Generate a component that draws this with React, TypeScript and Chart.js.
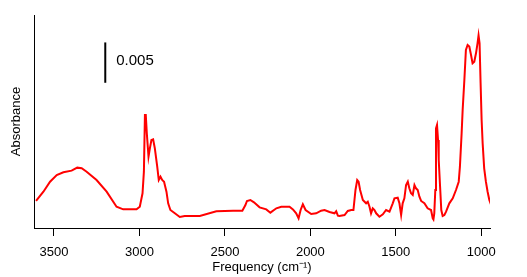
import React, { useEffect, useRef } from "react";
import { Chart, registerables } from "chart.js";

Chart.register(...registerables);

// Spectrum: frequency (cm^-1) and absorbance
const FREQ = [
  3605, 3562, 3523, 3484, 3445, 3397, 3364, 3338, 3309, 3251, 3192, 3134, 3095, 3017, 2998,
  2982, 2974, 2968, 2963, 2957, 2947, 2939, 2930, 2920, 2910, 2896, 2887, 2877, 2867, 2856,
  2842, 2832, 2819, 2793, 2764, 2735, 2647, 2550, 2452, 2398, 2380, 2371, 2351, 2330, 2297,
  2258, 2234, 2199, 2170, 2122, 2102, 2083, 2069, 2057, 2044, 2028, 1995, 1966, 1937, 1917,
  1888, 1859, 1849, 1839, 1830, 1800, 1781, 1761, 1748, 1736, 1726, 1718, 1709, 1693, 1674,
  1664, 1654, 1645, 1635, 1625, 1615, 1596, 1576, 1557, 1537, 1518, 1508, 1489, 1479, 1469,
  1460, 1450, 1440, 1430, 1421, 1411, 1401, 1391, 1382, 1372, 1362, 1352, 1333, 1314, 1294,
  1284, 1280, 1275, 1269, 1265, 1259, 1253, 1249, 1241, 1234, 1226, 1216, 1206, 1187, 1167,
  1148, 1132, 1125, 1115, 1109, 1099, 1090, 1080, 1070, 1060, 1051, 1041, 1031, 1022, 1016,
  1010, 1004, 998, 992, 983, 973, 963, 953, 950,
];
const ABS = [
  0.00335, 0.0045, 0.00574, 0.00657, 0.0069, 0.00711, 0.00748, 0.0074, 0.00698, 0.00595, 0.0045, 0.00264, 0.00231, 0.00231, 0.00264,
  0.0043, 0.00698, 0.01401, 0.01401, 0.01174, 0.00884, 0.00988, 0.01091, 0.01099, 0.00988, 0.0076, 0.00595, 0.00636, 0.00595, 0.00574,
  0.0045, 0.00306, 0.00223, 0.00182, 0.00136, 0.00149, 0.00149, 0.00207, 0.00215, 0.00215, 0.00285, 0.00335, 0.00347, 0.00318, 0.00256,
  0.00231, 0.0019, 0.00244, 0.00264, 0.00264, 0.00231, 0.00182, 0.0012, 0.00223, 0.00293, 0.00223, 0.00174, 0.00182, 0.00215, 0.00223,
  0.00198, 0.00182, 0.00207, 0.00153, 0.00149, 0.00161, 0.00211, 0.00223, 0.00223, 0.00471, 0.00595, 0.00574, 0.00471, 0.00347, 0.00306,
  0.00326, 0.00264, 0.00182, 0.00244, 0.00223, 0.00182, 0.0014, 0.00169, 0.00223, 0.00202, 0.00306, 0.00368, 0.00376, 0.00306, 0.00161,
  0.00306, 0.00368, 0.00533, 0.00574, 0.00492, 0.0043, 0.00409, 0.00533, 0.00492, 0.00471, 0.00388, 0.00335, 0.00306, 0.00244, 0.00223,
  0.0012, 0.00107, 0.00182, 0.00471, 0.01235, 0.01277, 0.01091, 0.00843, 0.00512, 0.00223, 0.00149, 0.00161, 0.00202, 0.00306, 0.00368,
  0.00471, 0.00574, 0.0076, 0.01174, 0.01463, 0.01835, 0.02206, 0.02268, 0.02248, 0.02145, 0.02041, 0.02062, 0.02165, 0.02289, 0.02388,
  0.02289, 0.01793, 0.01339, 0.0105, 0.0074, 0.00574, 0.0045, 0.00347, 0.0033,
];

// Scale bar annotation
const SCALE_BAR_X = [3200, 3200];
const SCALE_BAR_Y = [0.018, 0.023];
const SCALE_LABEL = "0.005";
const SCALE_LABEL_Y = 0.0207;

const X_TICKS = [3500, 3000, 2500, 2000, 1500, 1000];
const X_MIN = 949;
const X_MAX = 3617;
const Y_MIN = 0;
const Y_MAX = 0.0264;

const FONT = '"Liberation Sans", Arial, sans-serif';

export default function App() {
  const ref = useRef<HTMLCanvasElement | null>(null);

  useEffect(() => {
    if (!ref.current) return;
    const labelPlugin = {
      id: "scaleLabel",
      afterDatasetsDraw(chart: any) {
        const { ctx, scales } = chart;
        ctx.save();
        ctx.font = `15px ${FONT}`;
        ctx.fillStyle = "#000";
        ctx.textBaseline = "middle";
        ctx.textAlign = "left";
        ctx.fillText(
          SCALE_LABEL,
          scales.x.getPixelForValue(SCALE_BAR_X[0]) + 11,
          scales.y.getPixelForValue(SCALE_LABEL_Y)
        );
        ctx.restore();
      },
    };
    const chart = new Chart(ref.current, {
      type: "line",
      data: {
        datasets: [
          {
            data: FREQ.map((f, i) => ({ x: f, y: ABS[i] })),
            borderColor: "#ff0000",
            borderWidth: 2,
            pointRadius: 0,
            tension: 0,
            fill: false,
          },
          {
            data: SCALE_BAR_X.map((f, i) => ({ x: f, y: SCALE_BAR_Y[i] })),
            borderColor: "#000",
            borderWidth: 2,
            pointRadius: 0,
            fill: false,
          },
        ],
      },
      options: {
        animation: false,
        responsive: false,
        devicePixelRatio: 1,
        layout: { padding: { left: 0, right: 37, top: 15, bottom: 0 } },
        plugins: { legend: { display: false }, tooltip: { enabled: false } },
        scales: {
          x: {
            type: "linear",
            reverse: true,
            min: X_MIN,
            max: X_MAX,
            afterBuildTicks: (s: any) => {
              s.ticks = X_TICKS.map((v) => ({ value: v }));
            },
            afterFit: (s: any) => {
              s.height = 49;
            },
            grid: {
              display: true,
              drawOnChartArea: false,
              drawTicks: true,
              tickLength: 8,
              color: "#000",
              lineWidth: 1,
            },
            border: { display: true, color: "#000", width: 1 },
            ticks: {
              color: "#000",
              font: { family: FONT, size: 13 },
              padding: 9,
              maxRotation: 0,
              callback: (v: any) => String(v),
            },
            title: {
              display: true,
              text: "Frequency (cm⁻¹)",
              color: "#000",
              font: { family: FONT, size: 13 },
              padding: { top: 0, bottom: 2 },
            },
          },
          y: {
            type: "linear",
            min: Y_MIN,
            max: Y_MAX,
            afterFit: (s: any) => {
              s.width = 34;
            },
            grid: { display: false },
            border: { display: true, color: "#000", width: 1 },
            ticks: { display: false },
            title: {
              display: true,
              text: "Absorbance",
              color: "#000",
              font: { family: FONT, size: 13 },
              padding: { top: 9, bottom: 9 },
            },
          },
        },
      },
      plugins: [labelPlugin],
    });
    return () => chart.destroy();
  }, []);

  return (
    <div style={{ position: "absolute", left: 0, top: 0, width: 527, height: 277, background: "#fff" }}>
      <canvas ref={ref} width={527} height={277} style={{ width: 527, height: 277 }} />
    </div>
  );
}
